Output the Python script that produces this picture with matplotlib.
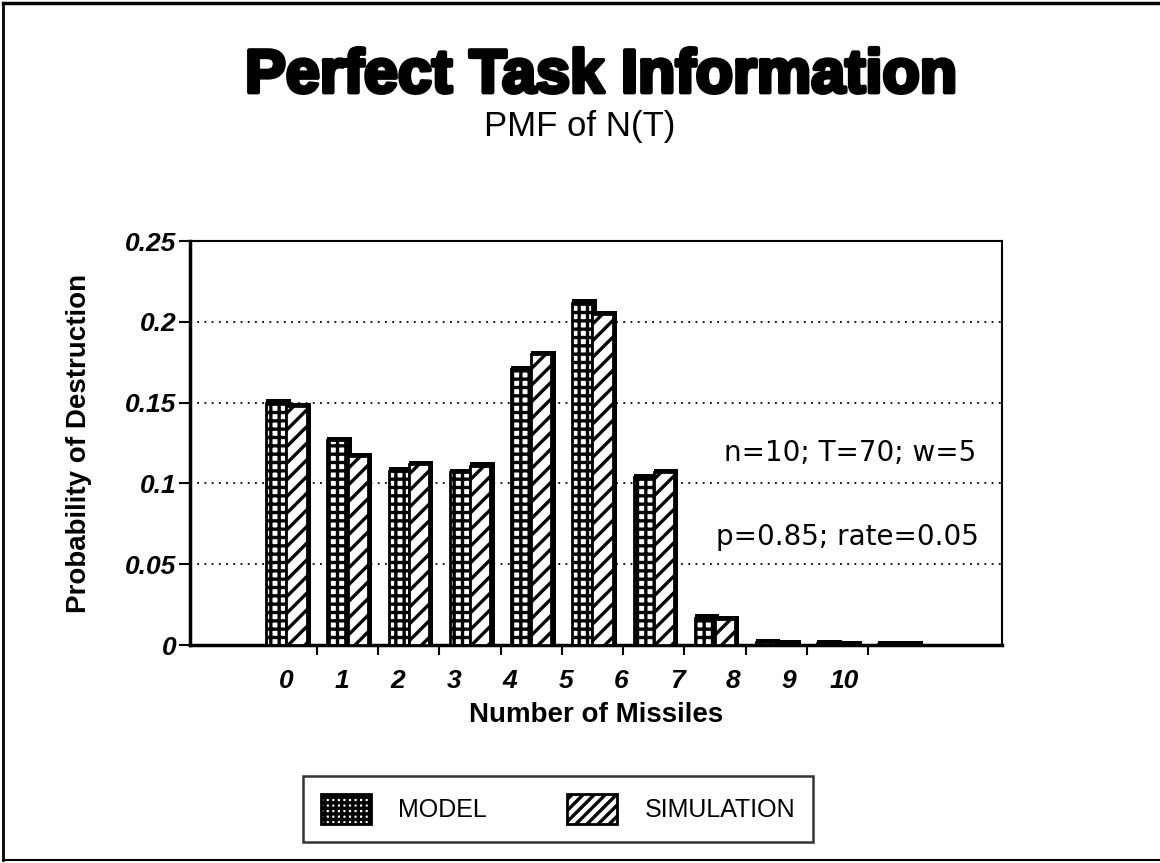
import numpy as np
import matplotlib
matplotlib.use('Agg')
import matplotlib.pyplot as plt
from matplotlib.lines import Line2D
from matplotlib.patches import Patch
import matplotlib.patheffects as pe

# data
missiles = list(range(11))
model = [0.150, 0.127, 0.108, 0.107, 0.171, 0.212, 0.104, 0.017, 0.002, 0.001, 0.0005]
simulation = [0.148, 0.117, 0.112, 0.111, 0.180, 0.205, 0.107, 0.016, 0.001, 0.0005, 0.0003]
y_ticks = [0, 0.05, 0.1, 0.15, 0.2, 0.25]
y_tick_labels = ['0', '0.05', '0.1', '0.15', '0.2', '0.25']
params_line1 = 'n=10; T=70; w=5'
params_line2 = 'p=0.85; rate=0.05'

plt.rcParams['font.family'] = ['Liberation Sans', 'DejaVu Sans']
plt.rcParams['hatch.linewidth'] = 2.4
plt.rcParams['hatch.color'] = 'black'

fig = plt.figure(figsize=(11.6, 8.63), dpi=100)
ax = fig.add_axes([0.1638, 0.2526, 0.700, 0.468])

x = np.array(missiles, dtype=float)
w = 0.33
depth = 0.07

# dark "3D" sides behind each bar
ax.bar(x - w, np.array(model) + 0.002, width=w + depth, align='edge',
       color='black', zorder=2)
ax.bar(x, np.array(simulation) + 0.002, width=w + depth, align='edge',
       color='black', zorder=2)
ax.bar(x - w, model, width=w, align='edge', facecolor='white',
       edgecolor='black', hatch='++', linewidth=2.0, zorder=3)
ax.bar(x, simulation, width=w, align='edge', facecolor='white',
       edgecolor='black', hatch='//', linewidth=2.0, zorder=3)

ax.set_xlim(-1.575, 11.69)
ax.set_ylim(0, 0.25)

# gridlines
for yv in y_ticks[1:-1]:
    ax.axhline(yv, color='black', linestyle=(0, (1, 3)), linewidth=1.3, zorder=1)

ax.set_yticks(y_ticks)
ax.set_yticklabels(y_tick_labels, fontsize=19, fontstyle='italic', fontweight='bold')
ax.tick_params(axis='y', direction='out', length=8, width=1.5, pad=2)

# category labels drift from the bar positions in the original
ax.set_xticks(x * 0.912)
ax.set_xticklabels([str(m) for m in missiles], fontsize=19, fontstyle='italic',
                   fontweight='bold')
ax.tick_params(axis='x', which='major', length=0, pad=17)
ax.set_xticks(x[:-1] + 0.5, minor=True)
ax.tick_params(axis='x', which='minor', direction='out', length=7, width=1.5)

for side in ['left', 'bottom']:
    ax.spines[side].set_linewidth(2.5)
for side in ['top', 'right']:
    ax.spines[side].set_linewidth(1.5)

ax.set_xlabel('Number of Missiles', fontsize=20, fontweight='bold', labelpad=7)
ax.set_ylabel('Probability of Destruction', fontsize=20, fontweight='bold', labelpad=24)

ax.text(0.968, 0.476, params_line1, transform=ax.transAxes, ha='right', va='center',
        fontsize=20, family='DejaVu Sans')
ax.text(0.972, 0.267, params_line2, transform=ax.transAxes, ha='right', va='center',
        fontsize=20, family='DejaVu Sans')

fig.text(0.518, 0.911, 'Perfect Task Information', ha='center', va='center',
         fontsize=44, fontweight='bold',
         path_effects=[pe.withStroke(linewidth=3, foreground='black')])
fig.text(0.5, 0.853, 'PMF of N(T)', ha='center', va='center', fontsize=25)

handles = [Patch(facecolor='white', edgecolor='black', hatch='+++', linewidth=2),
           Patch(facecolor='white', edgecolor='black', hatch='///', linewidth=2)]
leg = fig.legend(handles, ['MODEL', 'SIMULATION'], loc='center',
                 bbox_to_anchor=(0.481, 0.0626), ncol=2, fontsize=18,
                 frameon=True, fancybox=False, handlelength=2.0, handleheight=1.5,
                 handletextpad=1.1, columnspacing=3.2, borderpad=0.7)
leg.get_frame().set_edgecolor('black')
leg.get_frame().set_linewidth(1.8)

# outer frame of the figure
fig.add_artist(Line2D([0.003, 0.003], [0.003, 0.997], color='black', linewidth=2,
                      transform=fig.transFigure))
fig.add_artist(Line2D([0.003, 1.0], [0.997, 0.997], color='black', linewidth=2.5,
                      transform=fig.transFigure))
fig.add_artist(Line2D([0.003, 1.0], [0.004, 0.004], color='black', linewidth=1.5,
                      transform=fig.transFigure))

fig.savefig('out.png', dpi=100)
